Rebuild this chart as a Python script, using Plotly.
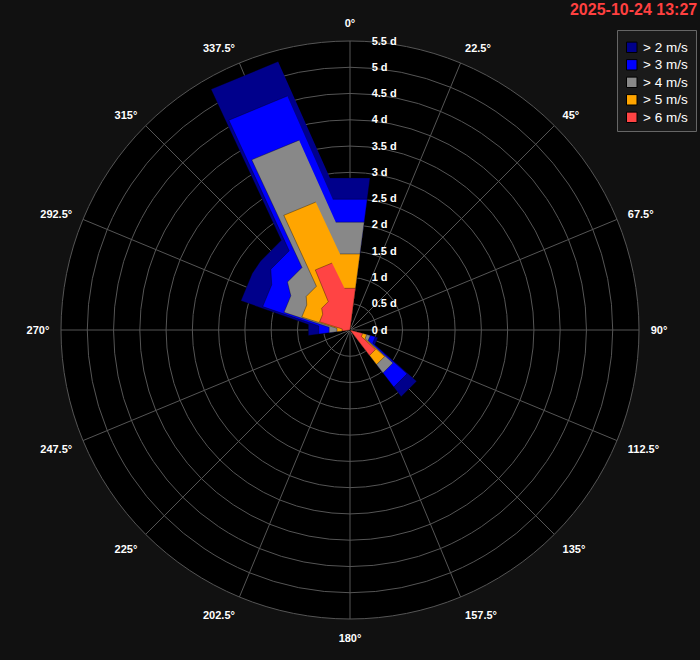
import plotly.graph_objects as go

# 16 compass directions (deg, clockwise from north)
directions = [0, 22.5, 45, 67.5, 90, 112.5, 135, 157.5,
              180, 202.5, 225, 247.5, 270, 292.5, 315, 337.5]

# duration (days) with wind above each speed threshold, per direction
gt2 = [2.92, 0, 0, 0, 0, 0.55, 1.60, 0, 0, 0, 0, 0, 0.80, 2.15, 2.15, 5.29]
gt3 = [2.51, 0, 0, 0, 0, 0.50, 1.37, 0, 0, 0, 0, 0, 0.60, 1.72, 1.90, 4.61]
gt4 = [2.07, 0, 0, 0, 0, 0.40, 1.03, 0, 0, 0, 0, 0, 0.40, 1.30, 1.50, 3.74]
gt5 = [1.46, 0, 0, 0, 0, 0.33, 0.83, 0, 0, 0, 0, 0, 0.25, 0.95, 1.05, 2.52]
gt6 = [0.80, 0, 0, 0, 0, 0.25, 0.61, 0, 0, 0, 0, 0, 0.15, 0.60, 0.68, 1.32]

series_names = ["> 2 m/s", "> 3 m/s", "> 4 m/s", "> 5 m/s", "> 6 m/s"]
series_values = [gt2, gt3, gt4, gt5, gt6]
series_colors = ["#00008b", "#0000ff", "#888888", "#ffa500", "#ff4444"]

radial_ticks = [0, 0.5, 1, 1.5, 2, 2.5, 3, 3.5, 4, 4.5, 5, 5.5]
radial_labels = ["0 d", "0.5 d", "1 d", "1.5 d", "2 d", "2.5 d", "3 d",
                 "3.5 d", "4 d", "4.5 d", "5 d", "5.5 d"]
angle_labels = [f"{d:g}°" for d in directions]

HALF = 7.5  # half sector width (deg)

W, H = 700, 660
ML, MR, MT, MB = 61, 61, 41, 41
PW, PH = W - ML - MR, H - MT - MB


def px_x(x):  # pixel -> paper x
    return (x - ML) / PW


def px_y(y):  # pixel -> paper y
    return (H - MB - y) / PH


fig = go.Figure()
for name, vals, col in zip(series_names, series_values, series_colors):
    th, rr = [], []
    for d, v in zip(directions, vals):
        th += [d - HALF, d + HALF]
        rr += [v, v]
    fig.add_trace(go.Scatterpolar(
        r=rr, theta=th, mode="lines", fill="toself", name=name,
        fillcolor=col, line=dict(color="rgba(0,0,0,0.35)", width=1),
        hoverinfo="skip", showlegend=False))

# custom legend (box + swatches + labels)
shapes = [dict(type="rect", xref="paper", yref="paper",
               x0=px_x(617.5), x1=px_x(696.5), y0=px_y(131.5), y1=px_y(30.5),
               line=dict(color="#666666", width=1), fillcolor="#1a1a1a",
               layer="above")]
annotations = []
for i, (name, col) in enumerate(zip(series_names, series_colors)):
    cy = 47.3 + i * 17.5
    shapes.append(dict(type="rect", xref="paper", yref="paper",
                       x0=px_x(626.5), x1=px_x(637), y0=px_y(cy + 5.2),
                       y1=px_y(cy - 5.2), fillcolor=col,
                       line=dict(color="#000000", width=1), layer="above"))
    annotations.append(dict(text=name, xref="paper", yref="paper",
                            x=px_x(641), y=px_y(cy), xanchor="left",
                            yanchor="middle", showarrow=False,
                            font=dict(size=13.5, color="#ffffff")))

fig.update_layout(
    width=W, height=H,
    paper_bgcolor="#111111",
    margin=dict(l=ML, r=MR, t=MT, b=MB),
    font=dict(family="Liberation Sans, Arial, sans-serif", color="#ffffff"),
    title=dict(text="<b>2025-10-24 13:27</b>", x=0.996, xref="container",
               xanchor="right", y=0.995, yref="container", yanchor="top",
               font=dict(size=16, color="#ff4040")),
    showlegend=False,
    shapes=shapes,
    annotations=annotations,
    polar=dict(
        bgcolor="#000000",
        angularaxis=dict(rotation=90, direction="clockwise",
                         tickmode="array", tickvals=directions,
                         ticktext=angle_labels, ticks="outside", ticklen=9,
                         tickcolor="rgba(0,0,0,0)",
                         tickfont=dict(size=11, color="#ffffff", weight="bold"),
                         gridcolor="#555555", linecolor="#555555",
                         showline=True),
        radialaxis=dict(range=[0, 5.5], angle=90, tickangle=90,
                        tickmode="array", tickvals=radial_ticks,
                        ticktext=radial_labels, ticks="outside", ticklen=19,
                        tickcolor="rgba(0,0,0,0)",
                        tickfont=dict(size=11, color="#ffffff", weight="bold"),
                        gridcolor="#555555", showline=False),
    ),
)

fig.write_html("out.html", config={"displayModeBar": False},
               post_script="document.body.style.margin='0';"
                           "document.body.style.overflow='hidden';")
